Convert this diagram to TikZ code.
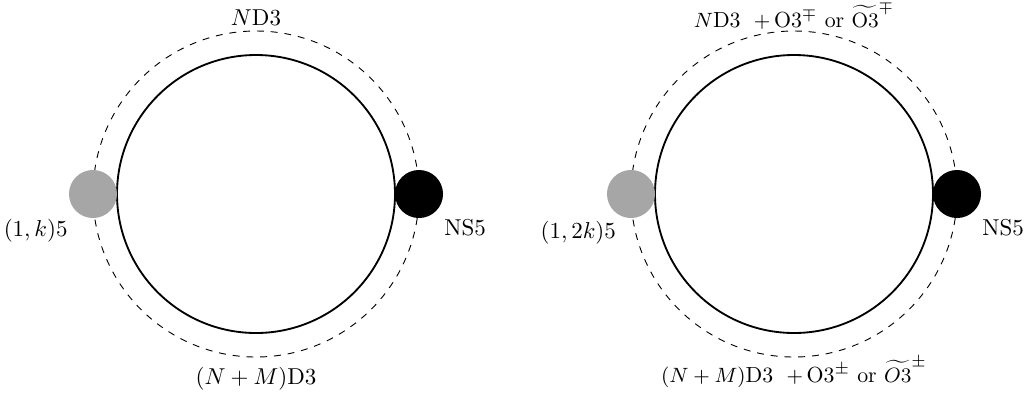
\documentclass[tikz,border=0pt]{standalone}
\usepackage{tikz}
\usetikzlibrary{positioning}
\tikzset{
  brane/.style={draw,thick},
  shell/.style={draw,thin,dashed},
  fbrane/.style={circle,inner sep=0pt,minimum size=20.9pt},
  lbl/.style={anchor=base}}
\begin{document}
\begin{tikzpicture}[x=0.435pt,y=0.435pt]
\useasboundingbox (0,0) rectangle (1029,396);
% left ring
\coordinate (c1) at (256,202);
\draw[shell] (c1) circle[radius=163];
\draw[brane] (c1) circle[radius=139];
\node[fbrane,fill=gray!70] (g1) at (93,202) {};
\node[fbrane,fill=black] (b1) at (419,202) {};
\node[anchor=north east] (l1) at (g1.south west) {$(1,k)5$};
\node[anchor=north west] (n1) at (b1.south east) {NS5};
\node[lbl] (t1) at (256,371) {$N$D3};
\node[lbl] (d1) at (256,12) {$(N+M)$D3};
% right ring
\coordinate (c2) at (794,202);
\draw[shell] (c2) circle[radius=163];
\draw[brane] (c2) circle[radius=139];
\node[fbrane,fill=gray!70] (g2) at (631,202) {};
\node[fbrane,fill=black] (b2) at (957,202) {};
\node[below left=1pt and -4.5pt of g2.south west] (l2) {$(1,2k)5$};
\node[anchor=north west] (n2) at (b2.south east) {NS5};
\node[lbl,font=\fontsize{9.5}{11}\selectfont] (t2) at (794,369) {$N$D3\;\ $+\,$O3$^{\mp}$ or $\widetilde{\mathrm{O3}}^{\mp}$};
\node[lbl,font=\fontsize{9.5}{11}\selectfont] (d2) at (794,14) {$(N+M)$D3\;\ $+\,$O3$^{\pm}$ or $\widetilde{O3}^{\pm}$};
\end{tikzpicture}
\end{document}
